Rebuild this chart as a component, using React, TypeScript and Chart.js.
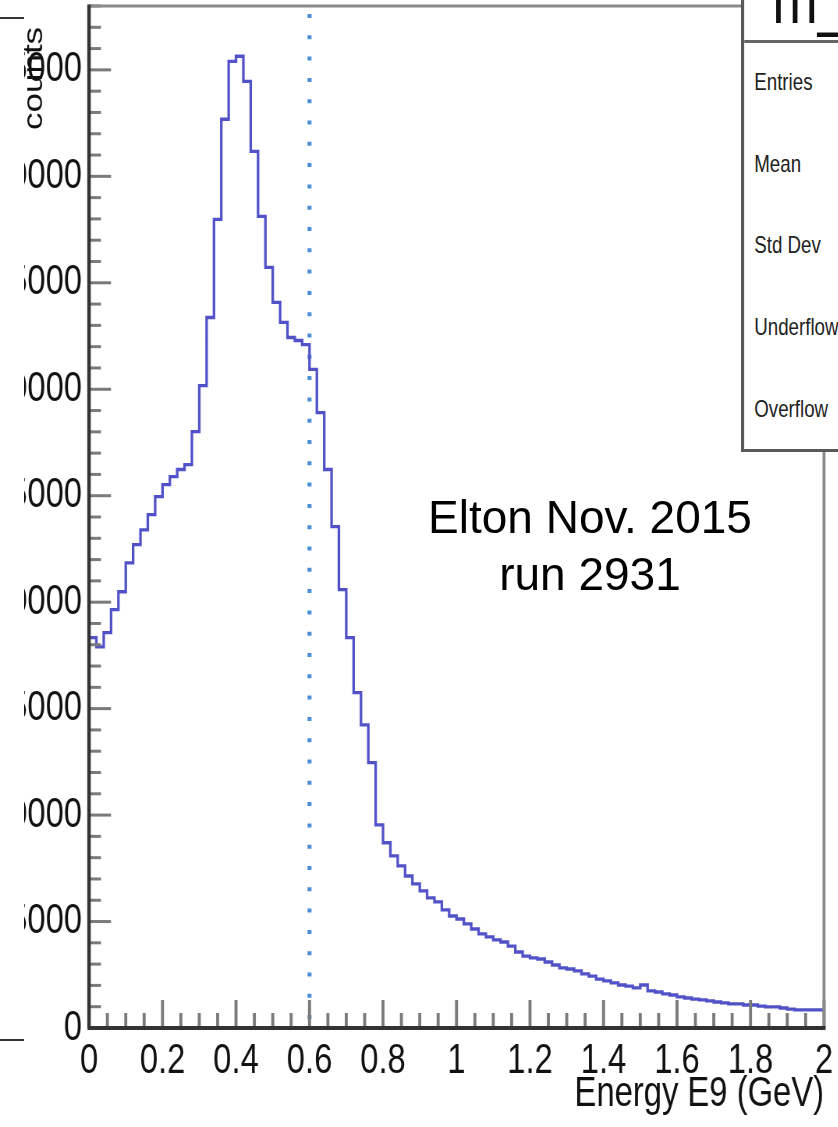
import React, { useEffect, useRef } from "react";
import { Chart, registerables } from "chart.js";

Chart.register(...registerables);

// ---------- data ----------
const X_MIN = 0;
const X_MAX = 2;
const BIN_WIDTH = 0.02;
const Y_MIN = 0;
const Y_MAX = 48000;
const X_MINOR_STEP = 0.05;
const Y_MINOR_STEP = 1000;
const MARKER_ENERGY = 0.6;

const X_TICKS = [0, 0.2, 0.4, 0.6, 0.8, 1, 1.2, 1.4, 1.6, 1.8, 2];
const X_TICK_LABELS = ["0", "0.2", "0.4", "0.6", "0.8", "1", "1.2", "1.4", "1.6", "1.8", "2"];
const Y_TICKS = [0, 5000, 10000, 15000, 20000, 25000, 30000, 35000, 40000, 45000];
const Y_TICK_LABELS = ["0", "5000", "10000", "15000", "20000", "25000", "30000", "35000", "40000", "45000"];

// counts per 0.02 GeV bin, 0 .. 2 GeV
const COUNTS = [
  12270, 18330, 17900, 18570, 19650, 20490, 21850, 22700, 23400, 24110,
  24960, 25520, 25900, 26230, 26460, 28010, 30170, 33370, 37980, 42680,
  45400, 45640, 44460, 41170, 38120, 35720, 34080, 33140, 32430, 32290,
  32100, 30930, 28900, 26230, 23550, 20590, 18330, 15750, 14240, 12460,
  9540, 8700, 8080, 7610, 7140, 6770, 6440, 6110, 5920, 5550,
  5260, 5120, 4890, 4650, 4420, 4280, 4140, 4040, 3850, 3570,
  3380, 3290, 3240, 3100, 2960, 2820, 2770, 2680, 2540, 2440,
  2300, 2210, 2120, 2020, 1970, 1880, 2020, 1740, 1690, 1600,
  1550, 1460, 1410, 1360, 1320, 1270, 1220, 1180, 1130, 1130,
  1080, 1080, 1030, 990, 990, 940, 890, 850, 850, 850,
];

const X_TITLE = "Energy E9 (GeV)";
const Y_TITLE = "counts";
const NOTE_LINES = ["Elton Nov. 2015", "run 2931"];
const STATS_TITLE = "m_E9";
const STATS_LABELS = ["Entries", "Mean", "Std Dev", "Underflow", "Overflow"];

// ---------- style ----------
const SANS = "'Liberation Sans', Arial, Helvetica, sans-serif";
const W = 838;
const H = 1127;
const SX = 0.78; // horizontal compression of the ROOT picture
const CW = Math.ceil(W / SX);
const PLOT_LEFT = 89 / SX;
const PLOT_RIGHT = 824 / SX;

const rootAxesPlugin = {
  id: "rootAxes",
  beforeDatasetsDraw(chart: any) {
    const { ctx, chartArea: a, scales } = chart;
    const px = scales.x.getPixelForValue(MARKER_ENERGY);
    ctx.save();
    ctx.strokeStyle = "#4d8fd4";
    ctx.lineWidth = 4 / SX;
    ctx.setLineDash([4, 17.3]);
    ctx.beginPath();
    ctx.moveTo(px, a.top + 8);
    ctx.lineTo(px, a.bottom);
    ctx.stroke();
    ctx.restore();
  },
  afterDatasetsDraw(chart: any) {
    const { ctx, chartArea: a, scales } = chart;
    const x = scales.x;
    const y = scales.y;
    ctx.save();
    ctx.lineCap = "butt";
    ctx.strokeStyle = "#7a7a7a";
    // y ticks (inward)
    ctx.lineWidth = 3;
    const nY = Math.round((Y_MAX - Y_MIN) / Y_MINOR_STEP);
    for (let i = 0; i <= nY; i++) {
      const v = Y_MIN + i * Y_MINOR_STEP;
      const py = y.getPixelForValue(v);
      const major = Y_TICKS.indexOf(v) >= 0;
      const len = (major ? 22 : 12) / SX;
      ctx.beginPath();
      ctx.moveTo(a.left, py);
      ctx.lineTo(a.left + len, py);
      ctx.stroke();
    }
    // x ticks (inward)
    ctx.lineWidth = 3 / SX;
    const nX = Math.round((X_MAX - X_MIN) / X_MINOR_STEP);
    for (let i = 0; i <= nX; i++) {
      const v = X_MIN + i * X_MINOR_STEP;
      const pxv = x.getPixelForValue(v);
      const major = X_TICKS.some((t) => Math.abs(t - v) < 1e-6);
      const len = major ? 28 : 15;
      ctx.beginPath();
      ctx.moveTo(pxv, a.bottom);
      ctx.lineTo(pxv, a.bottom - len);
      ctx.stroke();
    }
    // frame: top and right (light)
    ctx.strokeStyle = "#8a8a8a";
    ctx.lineWidth = 3;
    ctx.beginPath();
    ctx.moveTo(a.left, a.top);
    ctx.lineTo(a.right, a.top);
    ctx.stroke();
    ctx.lineWidth = 3 / SX;
    ctx.beginPath();
    ctx.moveTo(a.right, a.top);
    ctx.lineTo(a.right, a.bottom);
    ctx.stroke();
    // axes: left and bottom (dark)
    ctx.strokeStyle = "#333333";
    ctx.lineWidth = 3.5 / SX;
    ctx.beginPath();
    ctx.moveTo(a.left, a.top - 1.5);
    ctx.lineTo(a.left, a.bottom);
    ctx.stroke();
    ctx.lineWidth = 4;
    ctx.beginPath();
    ctx.moveTo(a.left - 2, a.bottom);
    ctx.lineTo(a.right + 2, a.bottom);
    ctx.stroke();
    // y title, rotated, at the top end
    ctx.fillStyle = "#111";
    ctx.font = `35px ${SANS}`;
    ctx.translate(42 / SX, 130);
    ctx.rotate(-Math.PI / 2);
    ctx.textAlign = "left";
    ctx.textBaseline = "alphabetic";
    ctx.fillText(Y_TITLE, 0, 0);
    ctx.restore();
  },
};

export default function App() {
  const canvasRef = useRef<HTMLCanvasElement | null>(null);

  useEffect(() => {
    const canvas = canvasRef.current;
    if (!canvas) return;
    const points = COUNTS.map((c, i) => ({ x: X_MIN + i * BIN_WIDTH, y: c }));
    points.push({ x: X_MIN + COUNTS.length * BIN_WIDTH, y: COUNTS[COUNTS.length - 1] });

    const chart = new Chart(canvas, {
      type: "line",
      data: {
        datasets: [
          {
            data: points,
            stepped: "after",
            borderColor: "#5252c8",
            borderWidth: 3.3,
            pointRadius: 0,
            fill: false,
          },
        ],
      },
      options: {
        responsive: false,
        animation: false,
        devicePixelRatio: 1,
        layout: { padding: { left: 0, right: CW - PLOT_RIGHT, top: 6, bottom: 0 } },
        plugins: {
          legend: { display: false },
          tooltip: { enabled: false },
        },
        scales: {
          x: {
            type: "linear",
            min: X_MIN,
            max: X_MAX,
            grid: { display: false, drawTicks: false },
            border: { display: false },
            afterBuildTicks: (s: any) => {
              s.ticks = X_TICKS.map((v) => ({ value: v }));
            },
            ticks: {
              autoSkip: false,
              maxRotation: 0,
              minRotation: 0,
              padding: 8,
              color: "#111",
              font: { family: SANS, size: 42 },
              callback: (_v: any, i: number) => X_TICK_LABELS[i],
            },
            title: {
              display: true,
              text: X_TITLE,
              align: "end",
              color: "#111",
              font: { family: SANS, size: 42 },
              padding: { top: 0, bottom: 7 },
            },
            afterFit: (s: any) => {
              s.height = 99;
              s.paddingLeft = 0;
              s.paddingRight = 0;
            },
          },
          y: {
            type: "linear",
            min: Y_MIN,
            max: Y_MAX,
            grid: { display: false, drawTicks: false },
            border: { display: false },
            afterBuildTicks: (s: any) => {
              s.ticks = Y_TICKS.map((v) => ({ value: v }));
            },
            ticks: {
              autoSkip: false,
              padding: 7 / SX,
              color: "#111",
              font: { family: SANS, size: 42 },
              callback: (_v: any, i: number) => Y_TICK_LABELS[i],
            },
            afterFit: (s: any) => {
              s.width = PLOT_LEFT;
              s.paddingTop = 0;
              s.paddingBottom = 0;
            },
          },
        },
      } as any,
      plugins: [rootAxesPlugin],
    });
    return () => chart.destroy();
  }, []);

  return (
    <div
      style={{
        position: "fixed",
        left: 0,
        top: 0,
        width: W,
        height: H,
        overflow: "hidden",
        background: "#fff",
      }}
    >
      {/* fragments of the neighbouring panel */}
      <div style={{ position: "absolute", left: 0, top: 17, width: 24, height: 2, background: "#333" }} />
      <div style={{ position: "absolute", left: 0, top: 1039, width: 24, height: 2, background: "#333" }} />

      {/* horizontally compressed ROOT canvas + stats box */}
      <div
        style={{
          position: "absolute",
          left: 0,
          top: 0,
          width: CW,
          height: H,
          transform: `scaleX(${SX})`,
          transformOrigin: "0 0",
        }}
      >
        <canvas
          ref={canvasRef}
          width={CW}
          height={H}
          style={{
            position: "absolute",
            left: 0,
            top: 0,
            width: CW,
            height: H,
            display: "block",
            clipPath: `inset(0 0 0 ${24 / SX}px)`,
          }}
        />
        <div
          style={{
            position: "absolute",
            left: 741 / SX,
            top: -3,
            width: 180,
            height: 455,
            background: "#fff",
            borderTop: "3px solid #5a5a5a",
            borderBottom: "3px solid #5a5a5a",
            borderLeft: "4px solid #5a5a5a",
            boxSizing: "border-box",
            overflow: "hidden",
            fontFamily: SANS,
            color: "#222",
          }}
        >
          <div
            style={{
              position: "absolute",
              left: 36,
              top: -36,
              fontSize: 70,
              lineHeight: "70px",
              whiteSpace: "nowrap",
              color: "#111",
            }}
          >
            {STATS_TITLE}
          </div>
          <div style={{ position: "absolute", left: 0, right: 0, top: 40, height: 0, borderTop: "3px solid #666" }} />
          {STATS_LABELS.map((t, i) => (
            <div
              key={t}
              style={{
                position: "absolute",
                left: 13,
                top: 68 + i * 81.7,
                fontSize: 24,
                lineHeight: "28px",
                whiteSpace: "nowrap",
              }}
            >
              {t}
            </div>
          ))}
        </div>
      </div>

      {/* annotation */}
      <div
        style={{
          position: "absolute",
          left: 390,
          top: 489,
          width: 400,
          textAlign: "center",
          fontFamily: SANS,
          fontSize: 46,
          lineHeight: "57px",
          color: "#000",
        }}
      >
        {NOTE_LINES.map((l) => (
          <div key={l}>{l}</div>
        ))}
      </div>
    </div>
  );
}
